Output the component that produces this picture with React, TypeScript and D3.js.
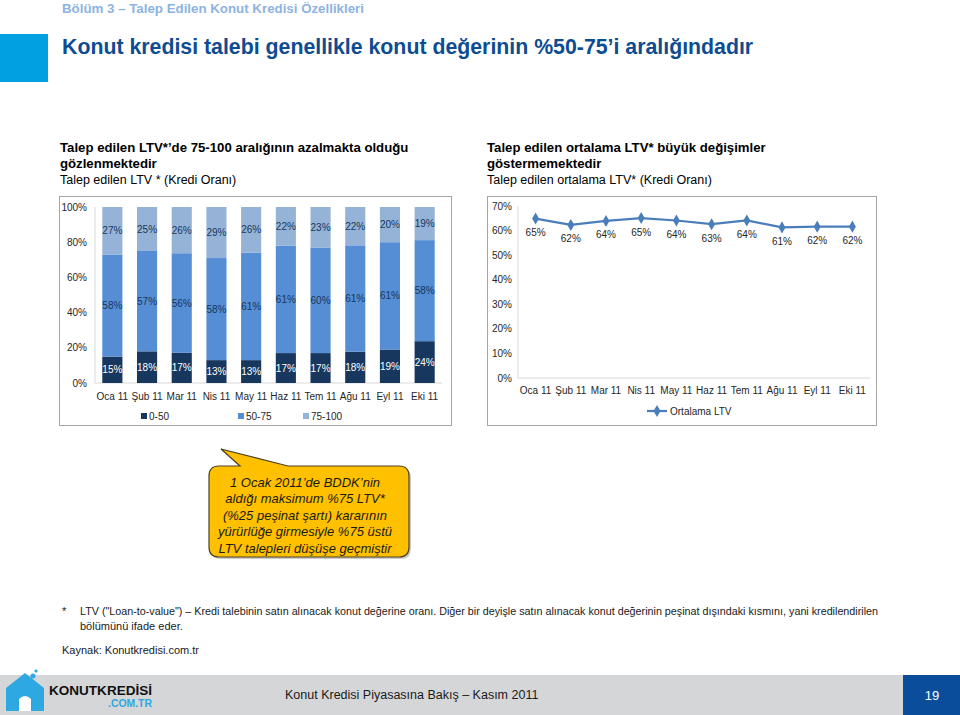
import React from "react";
import * as d3 from "d3";

const months = ["Oca 11", "Şub 11", "Mar 11", "Nis 11", "May 11", "Haz 11", "Tem 11", "Ağu 11", "Eyl 11", "Eki 11"];
const ltv0to50 = [15, 18, 17, 13, 13, 17, 17, 18, 19, 24];
const ltv50to75 = [58, 57, 56, 58, 61, 61, 60, 61, 61, 58];
const ltv75to100 = [27, 25, 26, 29, 26, 22, 23, 22, 20, 19];
const seriesKeys = ["0-50", "50-75", "75-100"];
const avgLtv = [0.649, 0.623, 0.639, 0.651, 0.641, 0.626, 0.641, 0.613, 0.616, 0.616];
const barTicks = [0, 0.2, 0.4, 0.6, 0.8, 1];
const lineTicks = [0, 0.1, 0.2, 0.3, 0.4, 0.5, 0.6, 0.7];

const FONT = "'Liberation Sans', Arial, sans-serif";
const NARROW = "'Liberation Sans Narrow', 'Liberation Sans', Arial, sans-serif";
const barColors = ["#17375E", "#558ED5", "#95B3D7"];
const labelColors = ["#FFFFFF", "#17375E", "#17375E"];
const pct = d3.format(".0%");
const FS = 10;

function BarChart() {
  const rows = months.map((m, i) => ({ month: m, "0-50": ltv0to50[i], "50-75": ltv50to75[i], "75-100": ltv75to100[i] }));
  const stacked = d3.stack<any>().keys(seriesKeys).offset(d3.stackOffsetExpand)(rows);
  const x = d3.scaleBand().domain(months).range([95, 442]).paddingInner(0.42).paddingOuter(0.21);
  const y = d3.scaleLinear().domain([0, 1]).range([383, 207]);
  const raw = [ltv0to50, ltv50to75, ltv75to100];
  const legendX = [141, 238, 303];
  return (
    <g fontFamily={FONT}>
      <rect x={59.5} y={196.5} width={392} height={229} fill="#fff" stroke="#a6a6a6" />
      <line x1={95} x2={95} y1={y(1)} y2={y(0)} stroke="#d9d9d9" />
      <line x1={95} x2={442} y1={y(0)} y2={y(0)} stroke="#d9d9d9" />
      {barTicks.map((t) => (
        <text key={t} x={87} y={y(t)} dy="0.35em" textAnchor="end" fontSize={FS} fill="#262626">{pct(t)}</text>
      ))}
      {stacked.map((s, si) => (
        <g key={s.key}>
          {s.map((d, i) => (
            <g key={i}>
              <rect x={x(months[i])} y={y(d[1])} width={x.bandwidth()} height={y(d[0]) - y(d[1])} fill={barColors[si]} />
              <text x={x(months[i])! + x.bandwidth() / 2} y={(y(d[0]) + y(d[1])) / 2} dy="0.35em" textAnchor="middle" fontSize={FS} fill={labelColors[si]}>{raw[si][i]}%</text>
            </g>
          ))}
        </g>
      ))}
      {months.map((m) => (
        <text key={m} x={x(m)! + x.bandwidth() / 2} y={396} dy="0.35em" textAnchor="middle" fontSize={FS} fill="#262626">{m}</text>
      ))}
      {seriesKeys.map((k, i) => (
        <g key={k}>
          <rect x={legendX[i]} y={413} width={6} height={6} fill={barColors[i]} />
          <text x={legendX[i] + 8} y={416} dy="0.35em" fontSize={FS} fill="#262626">{k}</text>
        </g>
      ))}
    </g>
  );
}

function LineChart() {
  const x = d3.scaleBand().domain(months).range([518, 870]).padding(0);
  const y = d3.scaleLinear().domain([0, 0.7]).range([378, 206]);
  const cx = (m: string) => x(m)! + x.bandwidth() / 2;
  const line = d3.line<number>().x((_, i) => cx(months[i])).y((v) => y(v));
  const diamond = d3.symbol(d3.symbolDiamond, 42)();
  return (
    <g fontFamily={FONT}>
      <rect x={487.5} y={196.5} width={389} height={229} fill="#fff" stroke="#a6a6a6" />
      <line x1={518} x2={518} y1={y(0.7)} y2={y(0)} stroke="#d9d9d9" />
      <line x1={518} x2={870} y1={y(0)} y2={y(0)} stroke="#d9d9d9" />
      {lineTicks.map((t) => (
        <text key={t} x={512} y={y(t)} dy="0.35em" textAnchor="end" fontSize={FS} fill="#262626">{pct(t)}</text>
      ))}
      <path d={line(avgLtv)!} fill="none" stroke="#4A7EBB" strokeWidth={2.25} />
      {avgLtv.map((v, i) => (
        <g key={i}>
          <path d={diamond!} transform={`translate(${cx(months[i])},${y(v)})`} fill="#4A7EBB" />
          <text x={cx(months[i])} y={y(v) + 14} dy="0.35em" textAnchor="middle" fontSize={FS} fill="#262626">{pct(v)}</text>
        </g>
      ))}
      {months.map((m) => (
        <text key={m} x={cx(m)} y={390} dy="0.35em" textAnchor="middle" fontSize={FS} fill="#262626">{m}</text>
      ))}
      <line x1={647} x2={667} y1={411} y2={411} stroke="#4A7EBB" strokeWidth={2.25} />
      <path d={diamond!} transform="translate(657,411)" fill="#4A7EBB" />
      <text x={670} y={411} dy="0.35em" fontSize={FS} fill="#262626">Ortalama LTV</text>
    </g>
  );
}

function Callout() {
  const x0 = 209, x1 = 409, y0 = 466, y1 = 557, r = 10;
  const p = d3.path();
  p.moveTo(x0 + r, y0);
  p.lineTo(240, y0);
  p.lineTo(221, 449);
  p.lineTo(288, y0);
  p.lineTo(x1 - r, y0);
  p.quadraticCurveTo(x1, y0, x1, y0 + r);
  p.lineTo(x1, y1 - r);
  p.quadraticCurveTo(x1, y1, x1 - r, y1);
  p.lineTo(x0 + r, y1);
  p.quadraticCurveTo(x0, y1, x0, y1 - r);
  p.lineTo(x0, y0 + r);
  p.quadraticCurveTo(x0, y0, x0 + r, y0);
  p.closePath();
  const lines = [
    "1 Ocak 2011’de BDDK’nin",
    "aldığı maksimum %75 LTV*",
    "(%25 peşinat şartı) kararının",
    "yürürlüğe girmesiyle %75 üstü",
    "LTV talepleri düşüşe geçmiştir",
  ];
  return (
    <g fontFamily={FONT}>
      <path d={p.toString()} transform="translate(2,2)" fill="#9a9a9a" opacity={0.5} />
      <path d={p.toString()} fill="#FFC000" stroke="#4d4222" strokeWidth={1.2} />
      {lines.map((l, i) => (
        <text key={i} x={305} y={482 + i * 16.5} dy="0.35em" textAnchor="middle" fontSize={13} fontStyle="italic" fill="#1a1a1a">{l}</text>
      ))}
    </g>
  );
}

export default function App() {
  return (
    <svg width={960} height={715} style={{ position: "absolute", left: 0, top: 0, background: "#fff" }}>
      <rect width={960} height={715} fill="#fff" />
      <g fontFamily={FONT}>
        <text x={62} y={8} dy="0.35em" fontSize={13.3} fontWeight="bold" fill="#8DB3E2">Bölüm 3 – Talep Edilen Konut Kredisi Özellikleri</text>
        <rect x={0} y={34} width={48} height={48} fill="#00A0E1" />
        <text x={62} y={47} dy="0.35em" fontSize={21.3} fontWeight="bold" fill="#0E4C92">Konut kredisi talebi genellikle konut değerinin %50-75’i aralığındadır</text>

        <text x={60} y={147} dy="0.35em" fontSize={13.2} fontWeight="bold" fill="#000">Talep edilen LTV*’de 75-100 aralığının azalmakta olduğu</text>
        <text x={60} y={163} dy="0.35em" fontSize={13.2} fontWeight="bold" fill="#000">gözlenmektedir</text>
        <text x={60} y={180} dy="0.35em" fontSize={12.5} fill="#000">Talep edilen LTV * (Kredi Oranı)</text>

        <text x={487} y={147} dy="0.35em" fontSize={13.2} fontWeight="bold" fill="#000">Talep edilen ortalama LTV* büyük değişimler</text>
        <text x={487} y={163} dy="0.35em" fontSize={13.2} fontWeight="bold" fill="#000">göstermemektedir</text>
        <text x={487} y={180} dy="0.35em" fontSize={12.5} fill="#000">Talep edilen ortalama LTV* (Kredi Oranı)</text>
      </g>
      <BarChart />
      <LineChart />
      <Callout />
      <g fontFamily={NARROW} fill="#1a1a1a" fontSize={11}>
        <text x={62} y={611} dy="0.35em">*</text>
        <text x={80} y={611} dy="0.35em" textLength={798} lengthAdjust="spacingAndGlyphs">LTV ("Loan-to-value") – Kredi talebinin satın alınacak konut değerine oranı. Diğer bir deyişle satın alınacak konut değerinin peşinat dışındaki kısmını, yani kredilendirilen</text>
        <text x={80} y={626} dy="0.35em">bölümünü ifade eder.</text>
        <text x={62} y={650} dy="0.35em">Kaynak: Konutkredisi.com.tr</text>
      </g>
      <rect x={0} y={675} width={903} height={40} fill="#D5D6D8" />
      <rect x={903} y={675} width={57} height={40} fill="#0A4E9B" />
      <text x={932} y={695} dy="0.35em" textAnchor="middle" fontFamily={FONT} fontSize={13} fill="#fff">19</text>
      <text x={285} y={695} dy="0.35em" fontFamily={NARROW} fontSize={12.5} fill="#1a1a1a">Konut Kredisi Piyasasına Bakış – Kasım 2011</text>
      <g>
        <path d="M6,688 L25,673 L44,688 L44,711 L6,711 Z" fill="#2DA8E0" />
        <path d="M19,711 L19,699 Q25,693 31,699 L31,711 Z" fill="#fff" />
        <circle cx={33} cy={676} r={2.5} fill="#2DA8E0" />
        <circle cx={36} cy={671} r={1.6} fill="#2DA8E0" />
        <text x={49} y={690} dy="0.35em" fontFamily={FONT} fontWeight="bold" fontSize={13} fill="#111" textLength={103} lengthAdjust="spacingAndGlyphs">KONUTKREDİSİ</text>
        <text x={108} y={703} dy="0.35em" fontFamily={FONT} fontWeight="bold" fontSize={10} fill="#2DA8E0" textLength={44} lengthAdjust="spacingAndGlyphs">.COM.TR</text>
      </g>
    </svg>
  );
}
